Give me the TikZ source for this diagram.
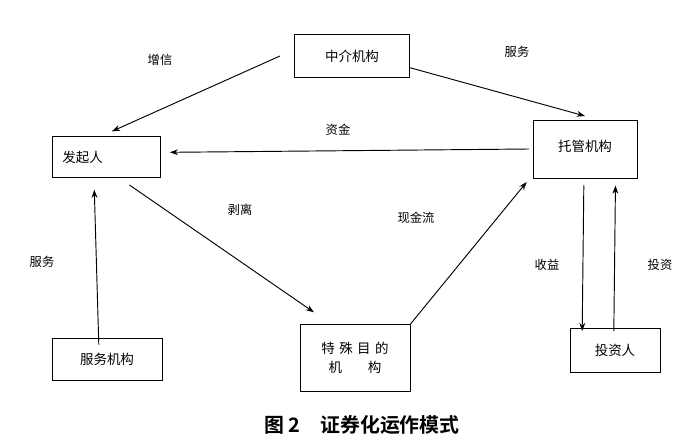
\documentclass[tikz,border=0pt]{standalone}
\usepackage{fontspec}
\newfontfamily\cjk{Noto Sans CJK SC}
\newfontfamily\cjkb{Noto Sans CJK SC Bold}
\usetikzlibrary{arrows.meta}
\begin{document}
\begin{tikzpicture}[x=0.03cm,y=-0.03cm,
  box/.style={draw,line width=0.8pt,font=\cjk\fontsize{11.5}{13}\selectfont,inner sep=0pt},
  lab/.style={font=\cjk\fontsize{10.5}{12}\selectfont},
  arr/.style={-{Stealth[length=7pt,width=5pt]},line width=0.8pt}]
\useasboundingbox (0,0) rectangle (688,447);
\node[box,minimum width=3.45cm,minimum height=1.29cm] (zj) at (352,56) {中介机构};
\node[box,minimum width=3.24cm,minimum height=1.23cm,anchor=center] (fq) at (106,157) {\hspace*{-1.4cm}发起人};
\node[box,minimum width=3.12cm,minimum height=1.74cm] (tg) at (585,149) {\raisebox{0.2cm}{托管机构}};
\node[box,minimum width=3.3cm,minimum height=1.26cm] (fw) at (107,359) {服务机构};
\node[box,minimum width=3.3cm,minimum height=2.01cm,align=center] (ts) at (355,358) {特\,\,殊\,\,目\,\,的\\[3pt]机\hspace{1.9em}构};
\node[box,minimum width=2.7cm,minimum height=1.32cm] (tz) at (615,350) {投资人};
\draw[arr] ([xshift=-12pt]zj.west) -- ([xshift=5pt,yshift=4pt]fq.north);
\draw[arr] ([yshift=-10pt]zj.east) -- ([yshift=3pt]tg.north);
\draw[arr] ([xshift=-3pt]tg.west) -- ([xshift=8pt,yshift=4pt]fq.east);
\draw[arr] ([xshift=20pt,yshift=-6pt]fq.south) -- ([xshift=-35pt,yshift=10pt]ts.north);
\draw[arr] (ts.north east) -- ([xshift=-5pt,yshift=-3pt]tg.south west);
\draw[arr] ([xshift=-7pt,yshift=-6pt]fw.north) -- ([xshift=-10pt,yshift=-10pt]fq.south);
\draw[arr] ([xshift=-1pt,yshift=-6pt]tg.south) -- ([xshift=-28pt,yshift=-3pt]tz.north);
\draw[arr] ([xshift=-1pt,yshift=-3pt]tz.north) -- ([xshift=26pt,yshift=-6pt]tg.south);
\node[lab] (l1) at (160,60) {增信};
\node[lab] (l2) at (517,52) {服务};
\node[lab] (l3) at (338,130) {资金};
\node[lab] (l4) at (240,210) {剥离};
\node[lab] (l5) at (416,218) {现金流};
\node[lab] (l6) at (42,262) {服务};
\node[lab] (l7) at (547,265) {收益};
\node[lab] (l8) at (660,265) {投资};
\node[font=\cjkb\fontsize{17}{20}\selectfont] (cap) at (362,425) {图 2\quad 证券化运作模式};
\end{tikzpicture}
\end{document}
